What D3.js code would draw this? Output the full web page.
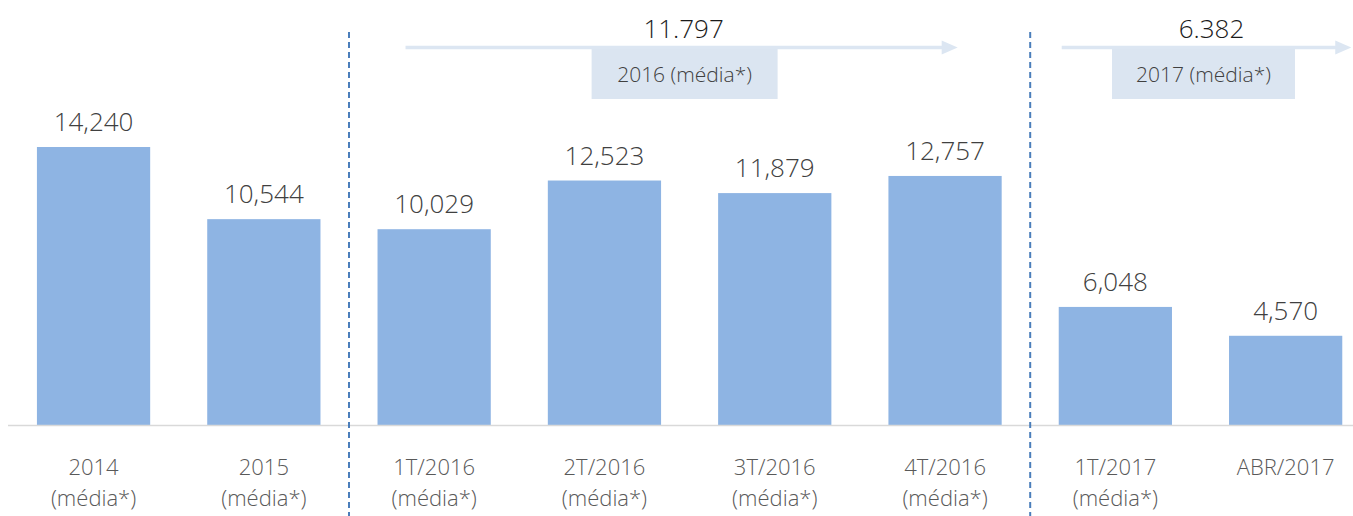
<!DOCTYPE html>
<html><head><meta charset="utf-8">
<script src="https://cdn.jsdelivr.net/npm/d3@7"></script>
<style>
html,body{margin:0;padding:0;background:#fff;}
svg{display:block;font-family:"Open Sans","Segoe UI",sans-serif;font-weight:300;}
</style></head>
<body>
<svg id="c" width="1353" height="516"></svg>
<script>
const categories = ["2014|(média*)","2015|(média*)","1T/2016|(média*)","2T/2016|(média*)","3T/2016|(média*)","4T/2016|(média*)","1T/2017|(média*)","ABR/2017"];
const values = [14240, 10544, 10029, 12523, 11879, 12757, 6048, 4570];
const valueLabels = ["14,240","10,544","10,029","12,523","11,879","12,757","6,048","4,570"];
const groupLabels = ["2016 (média*)", "2017 (média*)"];
const groupValues = ["11.797", "6.382"];
const groupFirst = [2, 6];
const groupLast = [5, 7];

const svg = d3.select("#c");
const W = 1353, H = 516, base = 425;

const x = d3.scaleBand().domain(categories).range([8.4, 1370.8]).paddingInner(0.335).paddingOuter(0.1675);
const y = d3.scaleLinear().domain([0, 15000]).range([base, base - 15000 * 278 / 14240]);
const bw = x.bandwidth();
const step = x.step();

// bars
svg.append("g").selectAll("rect").data(values).join("rect")
  .attr("x", (d, i) => x(categories[i]))
  .attr("y", d => y(d))
  .attr("width", bw)
  .attr("height", d => y(0) - y(d))
  .attr("fill", "#8eb4e3");

// axis line
svg.append("line").attr("x1", 8).attr("x2", W).attr("y1", base + 0.5).attr("y2", base + 0.5)
  .attr("stroke", "#d9d9d9").attr("stroke-width", 1.5);

// value labels
svg.append("g").selectAll("text").data(values).join("text")
  .attr("x", (d, i) => x(categories[i]) + bw / 2)
  .attr("y", d => y(d) - 16)
  .attr("text-anchor", "middle")
  .attr("font-size", 26)
  .attr("fill", "#404040")
  .text((d, i) => valueLabels[i]);

// category labels
const cl = svg.append("g").selectAll("text").data(categories).join("text")
  .attr("x", d => x(d) + bw / 2)
  .attr("y", 475)
  .attr("text-anchor", "middle")
  .attr("font-size", 22)
  .attr("fill", "#595959");
cl.each(function(d) {
  const parts = d.split("|");
  const t = d3.select(this);
  parts.forEach((p, k) => {
    t.append("tspan").attr("x", x(d) + bw / 2).attr("dy", k === 0 ? 0 : 31).text(p);
  });
});

// dashed dividers at group boundaries
groupFirst.forEach(gi => {
  const xd = x(categories[gi]) - (step - bw) / 2;
  svg.append("line").attr("x1", xd).attr("x2", xd).attr("y1", 32).attr("y2", H)
    .attr("stroke", "#4a7ebb").attr("stroke-width", 2).attr("stroke-dasharray", "6,4");
});

// group arrows, boxes and numbers
const arrowOff = [[28, -44], [3, 9]];
const boxW = [186, 183];
groupLabels.forEach((lab, g) => {
  const x0 = x(categories[groupFirst[g]]) + arrowOff[g][0];
  const x1 = x(categories[groupLast[g]]) + bw + arrowOff[g][1];
  const ay = 47.5;
  svg.append("line").attr("x1", x0).attr("x2", x1 - 14).attr("y1", ay).attr("y2", ay)
    .attr("stroke", "#dce6f2").attr("stroke-width", 3.5);
  svg.append("path")
    .attr("d", `M${x1 - 16},${ay - 7}L${x1},${ay}L${x1 - 16},${ay + 7}Z`)
    .attr("fill", "#dce6f2");
  const cx = (x0 + x1) / 2 + (g === 0 ? 3 : -3);
  svg.append("rect").attr("x", cx - boxW[g] / 2).attr("y", 49).attr("width", boxW[g]).attr("height", 50)
    .attr("fill", "#dbe5f1");
  svg.append("text").attr("x", cx).attr("y", 82).attr("text-anchor", "middle")
    .attr("font-size", 21).attr("fill", "#404040").text(lab);
  svg.append("text").attr("x", (x0 + x1) / 2 + (g === 0 ? 2 : 5)).attr("y", 38).attr("text-anchor", "middle")
    .attr("font-size", 26).attr("fill", "#1a1a1a").text(groupValues[g]);
});
</script>
</body></html>
